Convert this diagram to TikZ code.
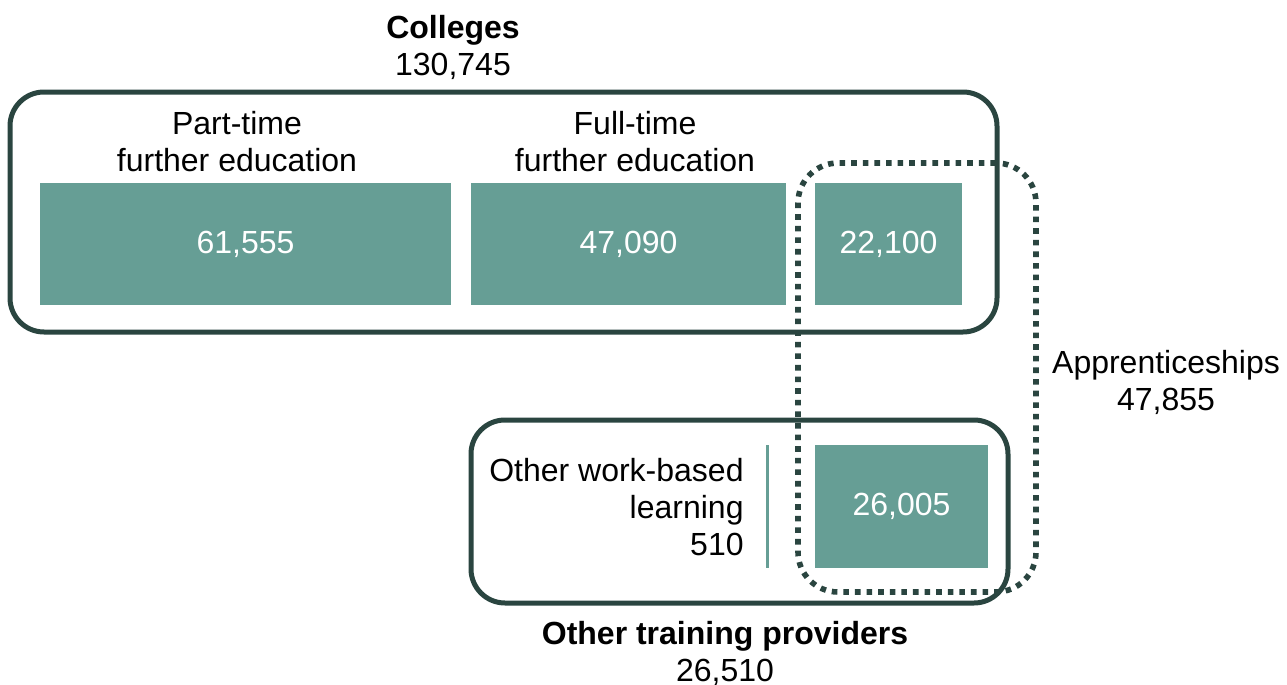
\documentclass[tikz,border=0pt]{standalone}
\usepackage{fontspec}
\setmainfont{Liberation Sans}
\usetikzlibrary{fit}
\definecolor{teal}{HTML}{669E95}
\definecolor{darkline}{HTML}{2A4540}
\begin{document}
\begin{tikzpicture}[x=0.5pt,y=-0.5pt,
  every node/.style={font=\fontsize{16pt}{18.5pt}\selectfont, inner sep=0pt},
  greenbox/.style={fill=teal, text=white, draw=none},
  groupbox/.style={draw=darkline, line width=2.5pt, rounded corners=17pt},
  dotbox/.style={draw=darkline, line width=2.8pt, dash pattern=on 2.8pt off 3pt, rounded corners=20pt},
  lbl/.style={align=center}]
\useasboundingbox (0,0) rectangle (1287,685);

% College group
\node[groupbox, fit={(10,92) (997,332)}] (colleges) {};
\node[greenbox, fit={(40,183) (451,305)}] (pt) {};
\node[text=white] at (pt.center) {61,555};
\node[greenbox, fit={(471,183) (786,305)}] (ft) {};
\node[text=white] at (ft.center) {47,090};
\node[greenbox, fit={(815,183) (962,305)}] (cap) {};
\node[text=white] at (cap.center) {22,100};
\node[lbl] (ptlbl) at (237,142) {Part-time\\further education};
\node[lbl] (ftlbl) at (635,142) {Full-time\\further education};
\node[lbl] (coltitle) at (453,47) {\textbf{Colleges}\\130,745};

% Other training providers group
\node[groupbox, fit={(471,420) (1008,603)}] (otp) {};
\node[greenbox, fit={(815,445) (988,568)}] (oap) {};
\node[text=white] at (oap.center) {26,005};
\node[fill=teal, fit={(766,445) (769,568)}] (divider) {};
\node[align=right, anchor=east] (owbl) at (744,507) {Other work-based\\learning\\510};
\node[lbl] (otptitle) at (725,653) {\textbf{Other training providers}\\26,510};

% Apprenticeships
\node[dotbox, fit={(798,163) (1036,592)}] (appr) {};
\node[lbl] (apprlbl) at (1166,382) {Apprenticeships\\47,855};
\end{tikzpicture}
\end{document}
